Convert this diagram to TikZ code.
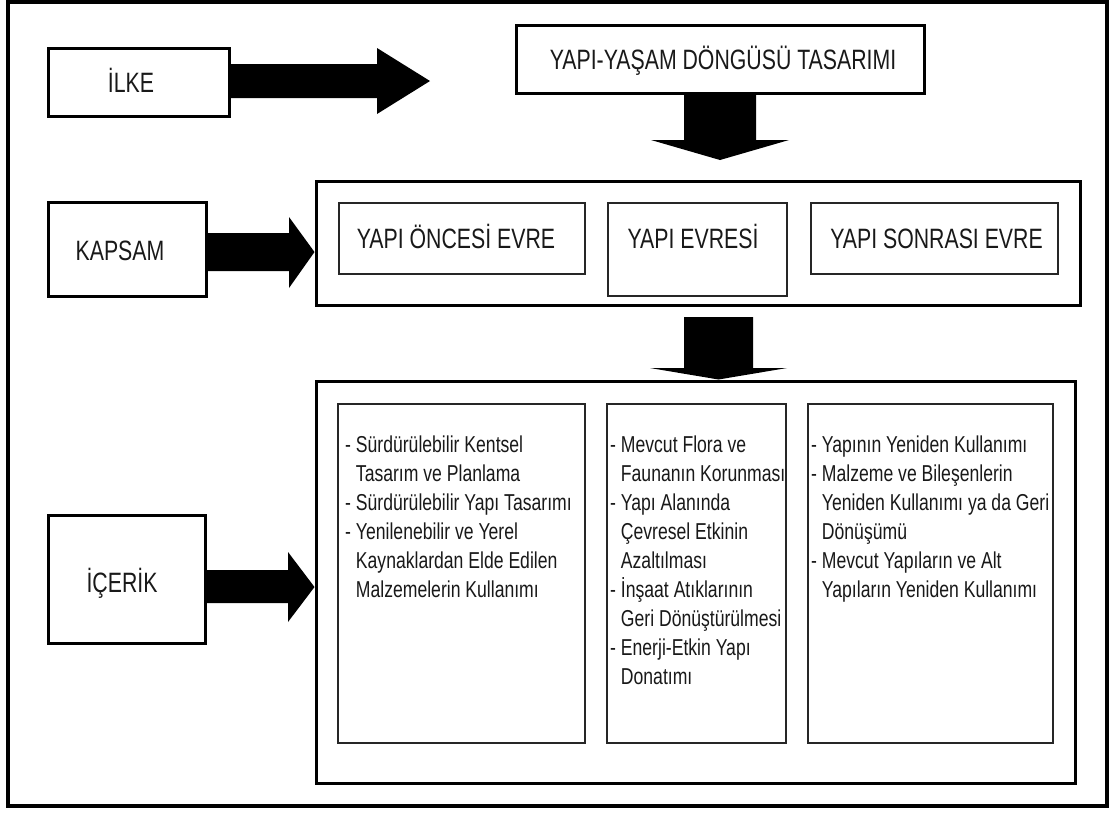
\documentclass[tikz,border=0pt]{standalone}
\usepackage{fontspec}
\setmainfont{Liberation Sans}[FakeStretch=0.76]
\newfontfamily\bodyfont{Liberation Sans}[FakeStretch=0.765]
\usetikzlibrary{calc}
\tikzset{
  outerframe/.style={draw=black, line width=4pt},
  bigbox/.style={draw=black, line width=3pt, fill=white, inner sep=0pt},
  inbox/.style={draw=black!85, line width=1.4pt, inner sep=0pt},
  lbl/.style={font=\fontsize{28}{32}\selectfont, text height=20pt, text depth=0pt, inner sep=0pt, text=black!90},
  body/.style={font=\bodyfont\fontsize{23}{29}\selectfont, align=left, inner sep=0pt, anchor=north west, text=black!90},
  blk/.style={fill=black},
}
\begin{document}
\begin{tikzpicture}[x=1pt,y=-1pt]
\useasboundingbox (0,0) rectangle (1115,812);
\fill[white] (0,0) rectangle (1115,812);
\draw[outerframe] (8,2) rectangle (1107,806);

% left boxes
\node[bigbox, minimum width=181, minimum height=68] (ilke) at (138.5,82) {};
\node[lbl] (ilket) at (131,82) {İLKE};
\node[bigbox, minimum width=158, minimum height=94] (kapsam) at (127,249) {};
\node[lbl] (kapsamt) at (120,250) {KAPSAM};
\node[bigbox, minimum width=157, minimum height=128] (icerik) at (126.5,579) {};
\node[lbl] (icerikt) at (122,582) {İÇERİK};

% title
\node[bigbox, minimum width=408, minimum height=68] (title) at (720,59) {};
\node[lbl] (titlet) at (723,59) {YAPI-YAŞAM DÖNGÜSÜ TASARIMI};

% containers
\node[bigbox, minimum width=764, minimum height=124] (cont1) at (698,243) {};
\node[bigbox, minimum width=759, minimum height=402] (cont2) at (695.5,582) {};

% phase boxes
\node[inbox, minimum width=246, minimum height=71] (pre) at (462,238.5) {};
\node[lbl] (pret) at (456,238) {YAPI ÖNCESİ EVRE};
\node[inbox, minimum width=179, minimum height=93] (dur) at (697.5,249.5) {};
\node[lbl] (durt) at (693,238) {YAPI EVRESİ};
\node[inbox, minimum width=247, minimum height=71] (post) at (934.5,238.5) {};
\node[lbl] (postt) at (936.5,238) {YAPI SONRASI EVRE};

% content columns
\node[inbox, minimum width=247, minimum height=339] (col1) at (461.5,573.5) {};
\node[inbox, minimum width=179, minimum height=339] (col2) at (696.5,573.5) {};
\node[inbox, minimum width=245, minimum height=339] (col3) at (930.5,573.5) {};

\node[body] (col1t) at (345,436) {- Sürdürülebilir Kentsel\\\phantom{- }Tasarım ve Planlama\\- Sürdürülebilir Yapı Tasarımı\\- Yenilenebilir ve Yerel\\\phantom{- }Kaynaklardan Elde Edilen\\\phantom{- }Malzemelerin Kullanımı};
\node[body] (col2t) at (610,436) {- Mevcut Flora ve\\\phantom{- }Faunanın Korunması\\- Yapı Alanında\\\phantom{- }Çevresel Etkinin\\\phantom{- }Azaltılması\\- İnşaat Atıklarının\\\phantom{- }Geri Dönüştürülmesi\\- Enerji-Etkin Yapı\\\phantom{- }Donatımı};
\node[body] (col3t) at (811,436) {- Yapının Yeniden Kullanımı\\- Malzeme ve Bileşenlerin\\\phantom{- }Yeniden Kullanımı ya da Geri\\\phantom{- }Dönüşümü\\- Mevcut Yapıların ve Alt\\\phantom{- }Yapıların Yeniden Kullanımı};

% block arrows
\coordinate (a1tip) at (430,81);
\fill[blk] ($(ilke.east)+(0,-18)$) -- (377,64) -- (377,48) -- (a1tip) -- (377,114) -- (377,98) -- ($(ilke.east)+(0,16)$) -- cycle;

\coordinate (d1tip) at (720,160);
\fill[blk] ($(title.south)+(-36,0)$) -- (684,140) -- (651,140) -- (d1tip) -- (789,140) -- (756,140) -- ($(title.south)+(36,0)$) -- cycle;

\coordinate (a2tip) at ($(cont1.west)+(0,9)$);
\fill[blk] ($(kapsam.east)+(0,-16)$) -- (289,233) -- (289,217) -- (a2tip) -- (289,288) -- (289,271) -- ($(kapsam.east)+(0,22)$) -- cycle;

\coordinate (d2top) at ($(cont1.south)+(0,12)$);
\coordinate (d2tip) at ($(cont2.north)+(23,0)$);
\fill[blk] (684,317) -- (753,317) -- (753,368) -- (787,368) -- (d2tip) -- (650,368) -- (684,368) -- cycle;

\coordinate (a3tip) at ($(cont2.west)+(0,5)$);
\fill[blk] ($(icerik.east)+(0,-9)$) -- (288,570) -- (288,552) -- (a3tip) -- (288,622) -- (288,603) -- ($(icerik.east)+(0,24)$) -- cycle;
\end{tikzpicture}
\end{document}
